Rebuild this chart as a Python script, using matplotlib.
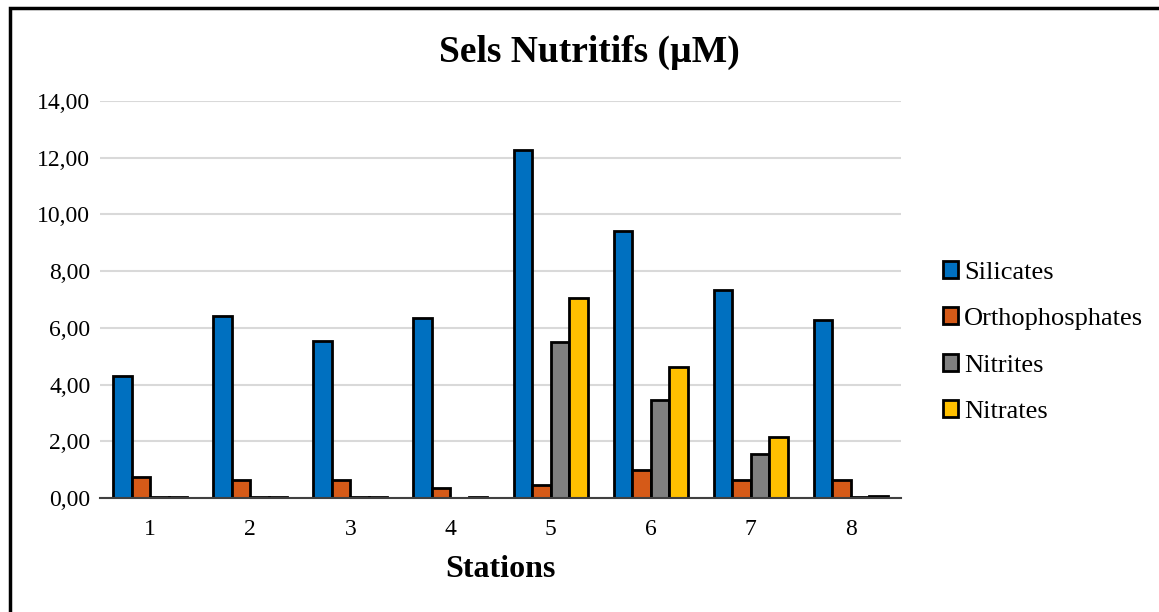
import numpy as np
import matplotlib
matplotlib.use("Agg")
import matplotlib.pyplot as plt
from matplotlib.patches import Rectangle
from matplotlib.ticker import FuncFormatter

plt.rcParams['font.family'] = ['Liberation Serif', 'DejaVu Serif']

# data
stations = ["1", "2", "3", "4", "5", "6", "7", "8"]
silicates = [4.30, 6.42, 5.54, 6.35, 12.26, 9.40, 7.32, 6.26]
orthophosphates = [0.74, 0.64, 0.65, 0.35, 0.46, 0.99, 0.64, 0.64]
nitrites = [0.02, 0.02, 0.02, 0.01, 5.50, 3.44, 1.55, 0.03]
nitrates = [0.03, 0.03, 0.03, 0.05, 7.05, 4.63, 2.15, 0.08]

series = [("Silicates", silicates, "#0070C0"),
          ("Orthophosphates", orthophosphates, "#D55A18"),
          ("Nitrites", nitrites, "#808080"),
          ("Nitrates", nitrates, "#FFC000")]

fig = plt.figure(figsize=(11.59, 6.12), dpi=100)
ax = fig.add_axes([100/1159, 114/612, 801/1159, 397/612])

x = np.arange(1, len(stations) + 1)
w = 0.185
for i, (name, vals, col) in enumerate(series):
    ax.bar(x + (i - 1.5) * w, vals, width=w, color=col, edgecolor="black",
           linewidth=2, label=name, zorder=3)

ax.set_xlim(0.5, 8.5)
ax.set_ylim(0, 14)
ax.set_yticks(np.arange(0, 15, 2))
ax.yaxis.set_major_formatter(FuncFormatter(lambda v, p: f"{v:.2f}".replace(".", ",")))
ax.set_xticks(x)
ax.set_xticklabels(stations)
ax.grid(axis="y", color="#d9d9d9", linewidth=1.5, zorder=0)
ax.tick_params(axis="both", length=0, labelsize=17)
ax.tick_params(axis="y", pad=7)
ax.tick_params(axis="x", pad=15)
for s in ["top", "right", "left"]:
    ax.spines[s].set_visible(False)
ax.spines["bottom"].set_color("#404040")
ax.spines["bottom"].set_linewidth(1.5)
ax.spines["bottom"].set_zorder(4)

ax.set_xlabel("Stations", fontsize=23, fontweight="bold", labelpad=11)
fig.text(589/1159, 1 - 52/612, "Sels Nutritifs (µM)", fontsize=27,
         fontweight="bold", ha="center", va="center")

leg = ax.legend(loc="center left", bbox_to_anchor=(1.052, 0.393), frameon=False,
                fontsize=19, handlelength=0.6, handleheight=0.6,
                handletextpad=0.2, labelspacing=0.9, borderaxespad=0,
                borderpad=0)
for h in leg.legend_handles:
    h.set_linewidth(2)

# outer frame (cut off at right and bottom in the reference)
fig.add_artist(Rectangle((10/1159, -0.2), 1.2, 1.2 - 8/612,
                         transform=fig.transFigure, fill=False,
                         edgecolor="black", linewidth=2.5))

fig.savefig("out.png", dpi=100)
